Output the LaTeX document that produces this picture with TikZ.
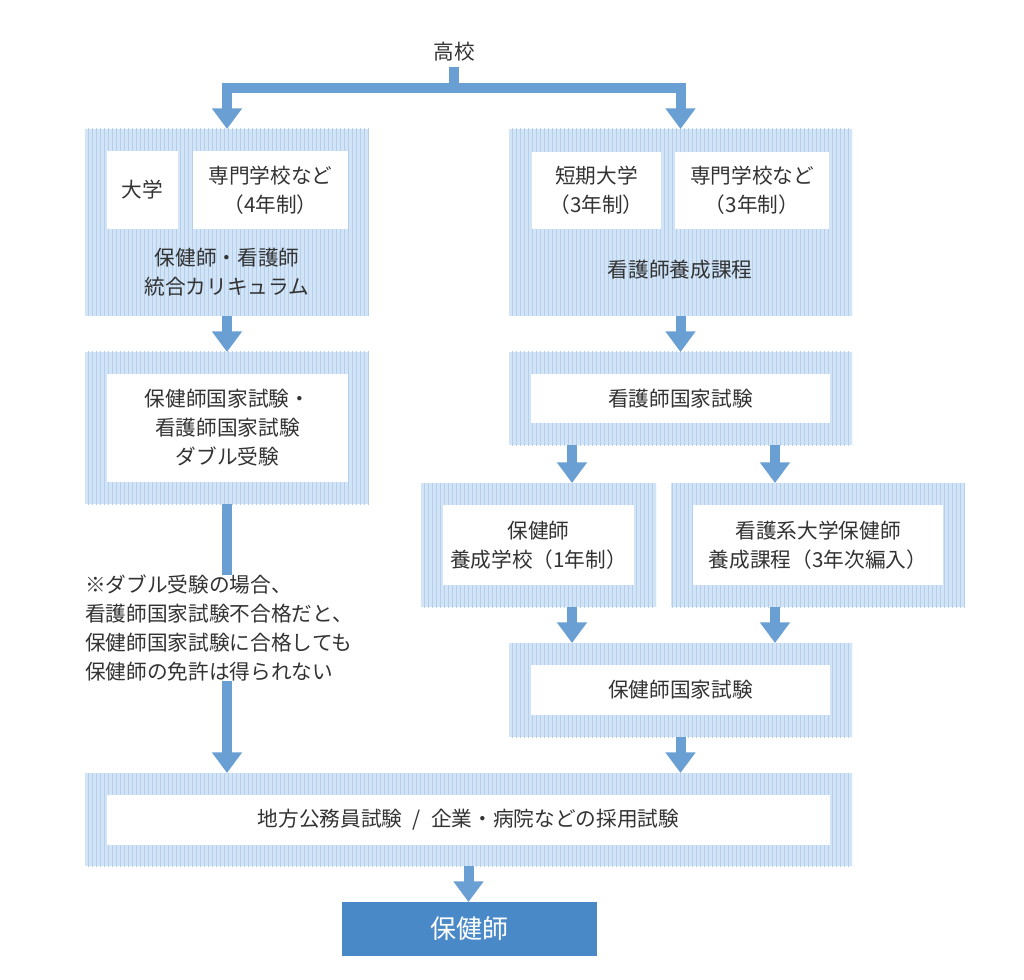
\documentclass[tikz,border=0pt]{standalone}
\usepackage{fontspec}
\usepackage{tikz}
\usetikzlibrary{arrows.meta,fit,patterns}
\newfontfamily\jp{Noto Sans CJK JP}
\newcommand\txt{\jp\fontsize{15.5pt}{21.75pt}\selectfont}
\definecolor{arrowblue}{RGB}{106,159,212}
\definecolor{boxblue}{RGB}{210,228,246}
\definecolor{lineblue}{RGB}{178,208,238}
\definecolor{finalblue}{RGB}{74,137,200}
\definecolor{textgray}{RGB}{51,51,51}

\begin{document}
\begin{tikzpicture}[x=0.75pt,y=-0.75pt,
    outer/.style={inner sep=0pt, outer sep=0pt, preaction={fill=boxblue}, pattern=vertical lines, pattern color=lineblue},
    inner/.style={inner sep=0pt, outer sep=0pt, fill=white},
    label/.style={inner sep=0pt, align=center, font=\txt, text=textgray},
    bar/.style={draw=arrowblue, line width=7.5pt},
    arr/.style={draw=arrowblue, line width=7.5pt, -{Triangle[width=21.75pt,length=15.5pt]}}]
   \useasboundingbox (0,0) rectangle (1024,980);
   \node[label] (koukou) at (454,52) {高校};
   \coordinate (fork) at (454,88);

   % left column
   \node[outer, fit={(85,129) (369,316)}] (b1) {};
   \node[inner, fit={(107,151) (178,229)}] (daigaku) {};
   \node[label] at (daigaku) {大学};
   \node[inner, fit={(193,151) (348,229)}] (senmon4) {};
   \node[label] at (senmon4) {専門学校など\\（4年制）};
   \node[label] (togo) at (227,272) {保健師・看護師\\統合カリキュラム};
   \node[outer, fit={(85,352) (369,504)}] (b2) {};
   \node[inner, fit={(107,374) (348,482)}] (double) {};
   \node[label] at (double) {保健師国家試験・\\看護師国家試験\\ダブル受験};

   % right column
   \node[outer, fit={(509,129) (852,316)}] (b3) {};
   \node[inner, fit={(532,152) (661,229)}] (tanki) {};
   \node[label] at (tanki) {短期大学\\（3年制）};
   \node[inner, fit={(675,152) (829,229)}] (senmon3) {};
   \node[label] at (senmon3) {専門学校など\\（3年制）};
   \node[label] (kango) at (680,270) {看護師養成課程};
   \node[outer, fit={(509,352) (852,445)}] (kexam) {};
   \node[inner, fit={(531,374) (830,423)}] (kexam_in) {};
   \node[label] at (kexam_in) {看護師国家試験};
   \node[outer, fit={(421,483) (656,607)}] (yousei) {};
   \node[inner, fit={(443,505) (634,585)}] (yousei_in) {};
   \node[label] at (yousei_in) {保健師\\養成学校（1年制）};
   \node[outer, fit={(671,483) (965,607)}] (hennyu) {};
   \node[inner, fit={(693,505) (943,585)}] (hennyu_in) {};
   \node[label] at (hennyu_in) {看護系大学保健師\\養成課程（3年次編入）};
   \node[outer, fit={(509,643) (852,737)}] (hexam) {};
   \node[inner, fit={(531,665) (830,715)}] (hexam_in) {};
   \node[label] at (hexam_in) {保健師国家試験};

   % bottom
   \node[outer, fit={(85,773) (852,866)}] (saiyo) {};
   \node[inner, fit={(107,795) (830,845)}] (saiyo_in) {};
   \node[label] at (saiyo_in) {地方公務員試験\enspace{}/\enspace{}企業・病院などの採用試験};
   \node[inner, fill=finalblue, fit={(342,902) (597,956)}] (hokenshi) {};
   \node[label, text=white, font=\jp\fontsize{19.5pt}{24pt}\selectfont] at (hokenshi) {保健師};

   \draw[bar, shorten <=4pt] (koukou.south) -- (fork);
   \draw[arr] (fork) -| (b1.north);
   \draw[arr] (fork) -| (b3.north);
   \draw[arr] (b1.south) -- (b2.north);
   \draw[arr] (b3.south) -- (kexam.north);
   \draw[arr] (572,0 |- kexam.south) -- (572,0 |- yousei.north);
   \draw[arr] (775,0 |- kexam.south) -- (775,0 |- hennyu.north);
   \draw[arr] (572,0 |- yousei.south) -- (572,0 |- hexam.north);
   \draw[arr] (775,0 |- hennyu.south) -- (775,0 |- hexam.north);
   \draw[arr] (hexam.south) -- (hexam.south |- saiyo.north);
   \draw[arr] (b2.south) -- (b2.south |- saiyo.north);
   \draw[arr] (saiyo.south) -- (saiyo.south |- hokenshi.north);

   \node[label, fill=white, align=left, anchor=west] (note) at (85,628)
     {※ダブル受験の場合、\\看護師国家試験不合格だと、\\保健師国家試験に合格しても\\保健師の免許は得られない};
\end{tikzpicture}
\end{document}
